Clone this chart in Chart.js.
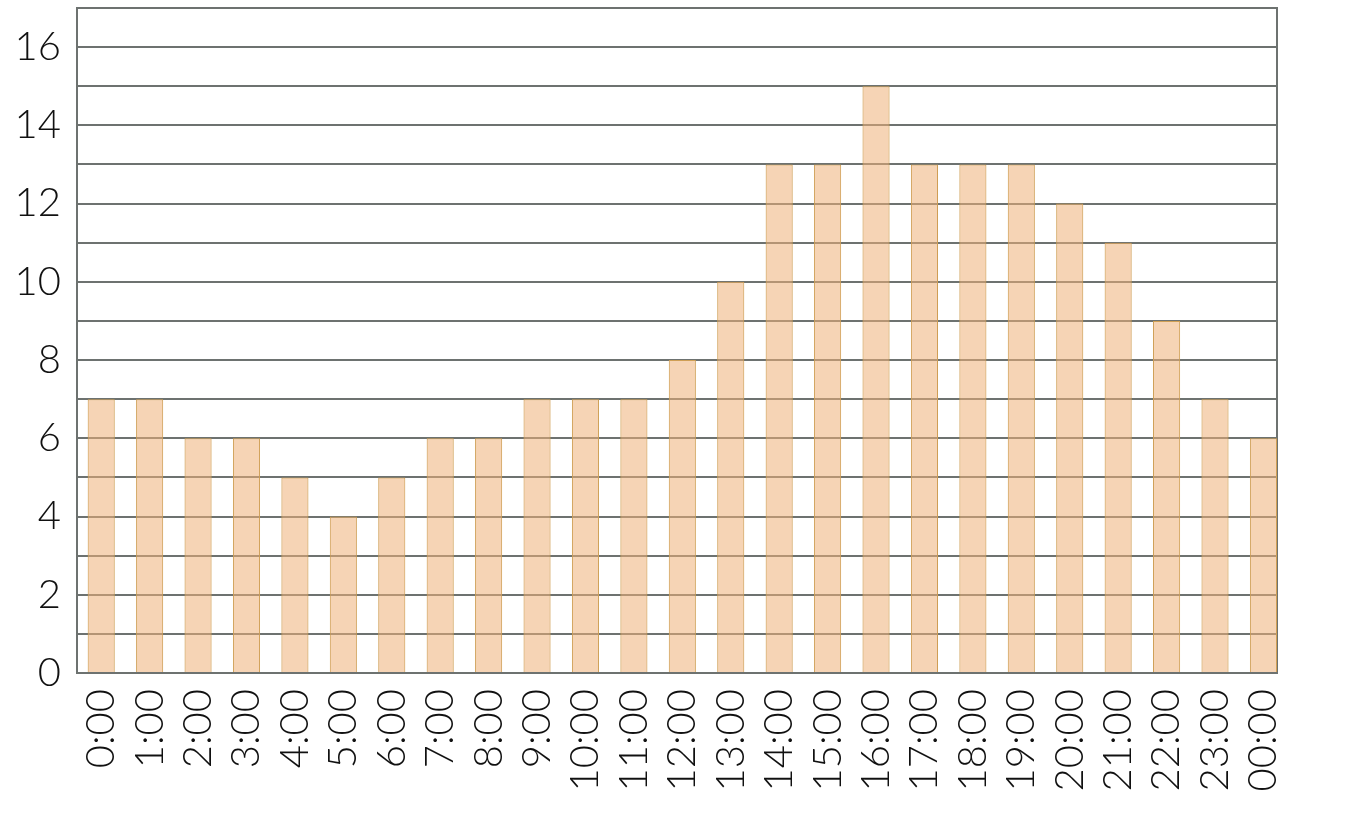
<!DOCTYPE html>
<html>
<head>
<meta charset="utf-8">
<script src="https://cdn.jsdelivr.net/npm/chart.js@4/dist/chart.umd.min.js"></script>
<style>
  html, body { margin: 0; padding: 0; background: #fff; }
  #grafica { display: block; }
</style>
</head>
<body>
<canvas id="grafica" width="1366" height="834"></canvas>
<script>
// horas del dia y cantidad por hora
const horas = ['0:00', '1:00', '2:00', '3:00', '4:00', '5:00', '6:00', '7:00', '8:00', '9:00',
    '10:00', '11:00', '12:00', '13:00', '14:00', '15:00', '16:00', '17:00', '18:00', '19:00',
    '20:00', '21:00', '22:00', '23:00', '00:00'];
const valores = [7, 7, 6, 6, 5, 4, 5, 6, 6, 7, 7, 7, 8, 10, 13, 13, 15, 13, 13, 13, 12, 11, 9, 7, 6];
const yMax = 17;

const gris = '#6d7270';
const fuente = { family: 'Lato', size: 40, weight: 300 };

const ctx = document.getElementById('grafica').getContext('2d');

const grafica = new Chart(ctx, {
    type: 'bar',
    data: {
        datasets: [{
            data: valores.map((v, i) => ({ x: i, y: v })),
            backgroundColor: 'rgba(239, 177, 120, 0.55)',
            borderColor: '#cf9f55',
            borderWidth: 1,
            categoryPercentage: 1,
            barPercentage: 0.56
        }]
    },
    options: {
        responsive: false,
        animation: false,
        layout: { padding: { top: 8, right: 89, left: 0, bottom: 0 } },
        scales: {
            x: {
                type: 'linear',
                offset: false,
                min: -0.5,
                max: 24.28,
                afterBuildTicks: (scale) => {
                    scale.ticks = horas.map((_, i) => ({ value: i }));
                },
                afterFit: (scale) => {
                    scale.height = 161;
                    scale.paddingLeft = 0;
                    scale.paddingRight = 0;
                },
                ticks: {
                    autoSkip: false,
                    maxRotation: 90,
                    minRotation: 90,
                    padding: 8,
                    color: '#111',
                    font: fuente,
                    callback: (v) => horas[v]
                },
                grid: { display: false },
                border: { display: true, color: gris, width: 2 }
            },
            y: {
                min: 0,
                max: yMax,
                afterFit: (scale) => {
                    scale.width = 77;
                    scale.paddingTop = 0;
                    scale.paddingBottom = 0;
                },
                ticks: {
                    autoSkip: false,
                    stepSize: 1,
                    padding: 16,
                    color: '#111',
                    font: fuente,
                    callback: (v) => (v % 2 === 0 ? v : '')
                },
                grid: { color: gris, lineWidth: 2, drawTicks: false },
                border: { display: true, color: gris, width: 2 }
            },
            y2: {
                position: 'right',
                min: 0,
                max: yMax,
                afterFit: (scale) => {
                    scale.width = 0;
                    scale.paddingTop = 0;
                    scale.paddingBottom = 0;
                },
                ticks: { display: false },
                grid: { display: false, drawTicks: false },
                border: { display: true, color: gris, width: 2 }
            }
        },
        plugins: {
            legend: { display: false },
            title: { display: false },
            tooltip: { enabled: false }
        }
    }
});
</script>
</body>
</html>
